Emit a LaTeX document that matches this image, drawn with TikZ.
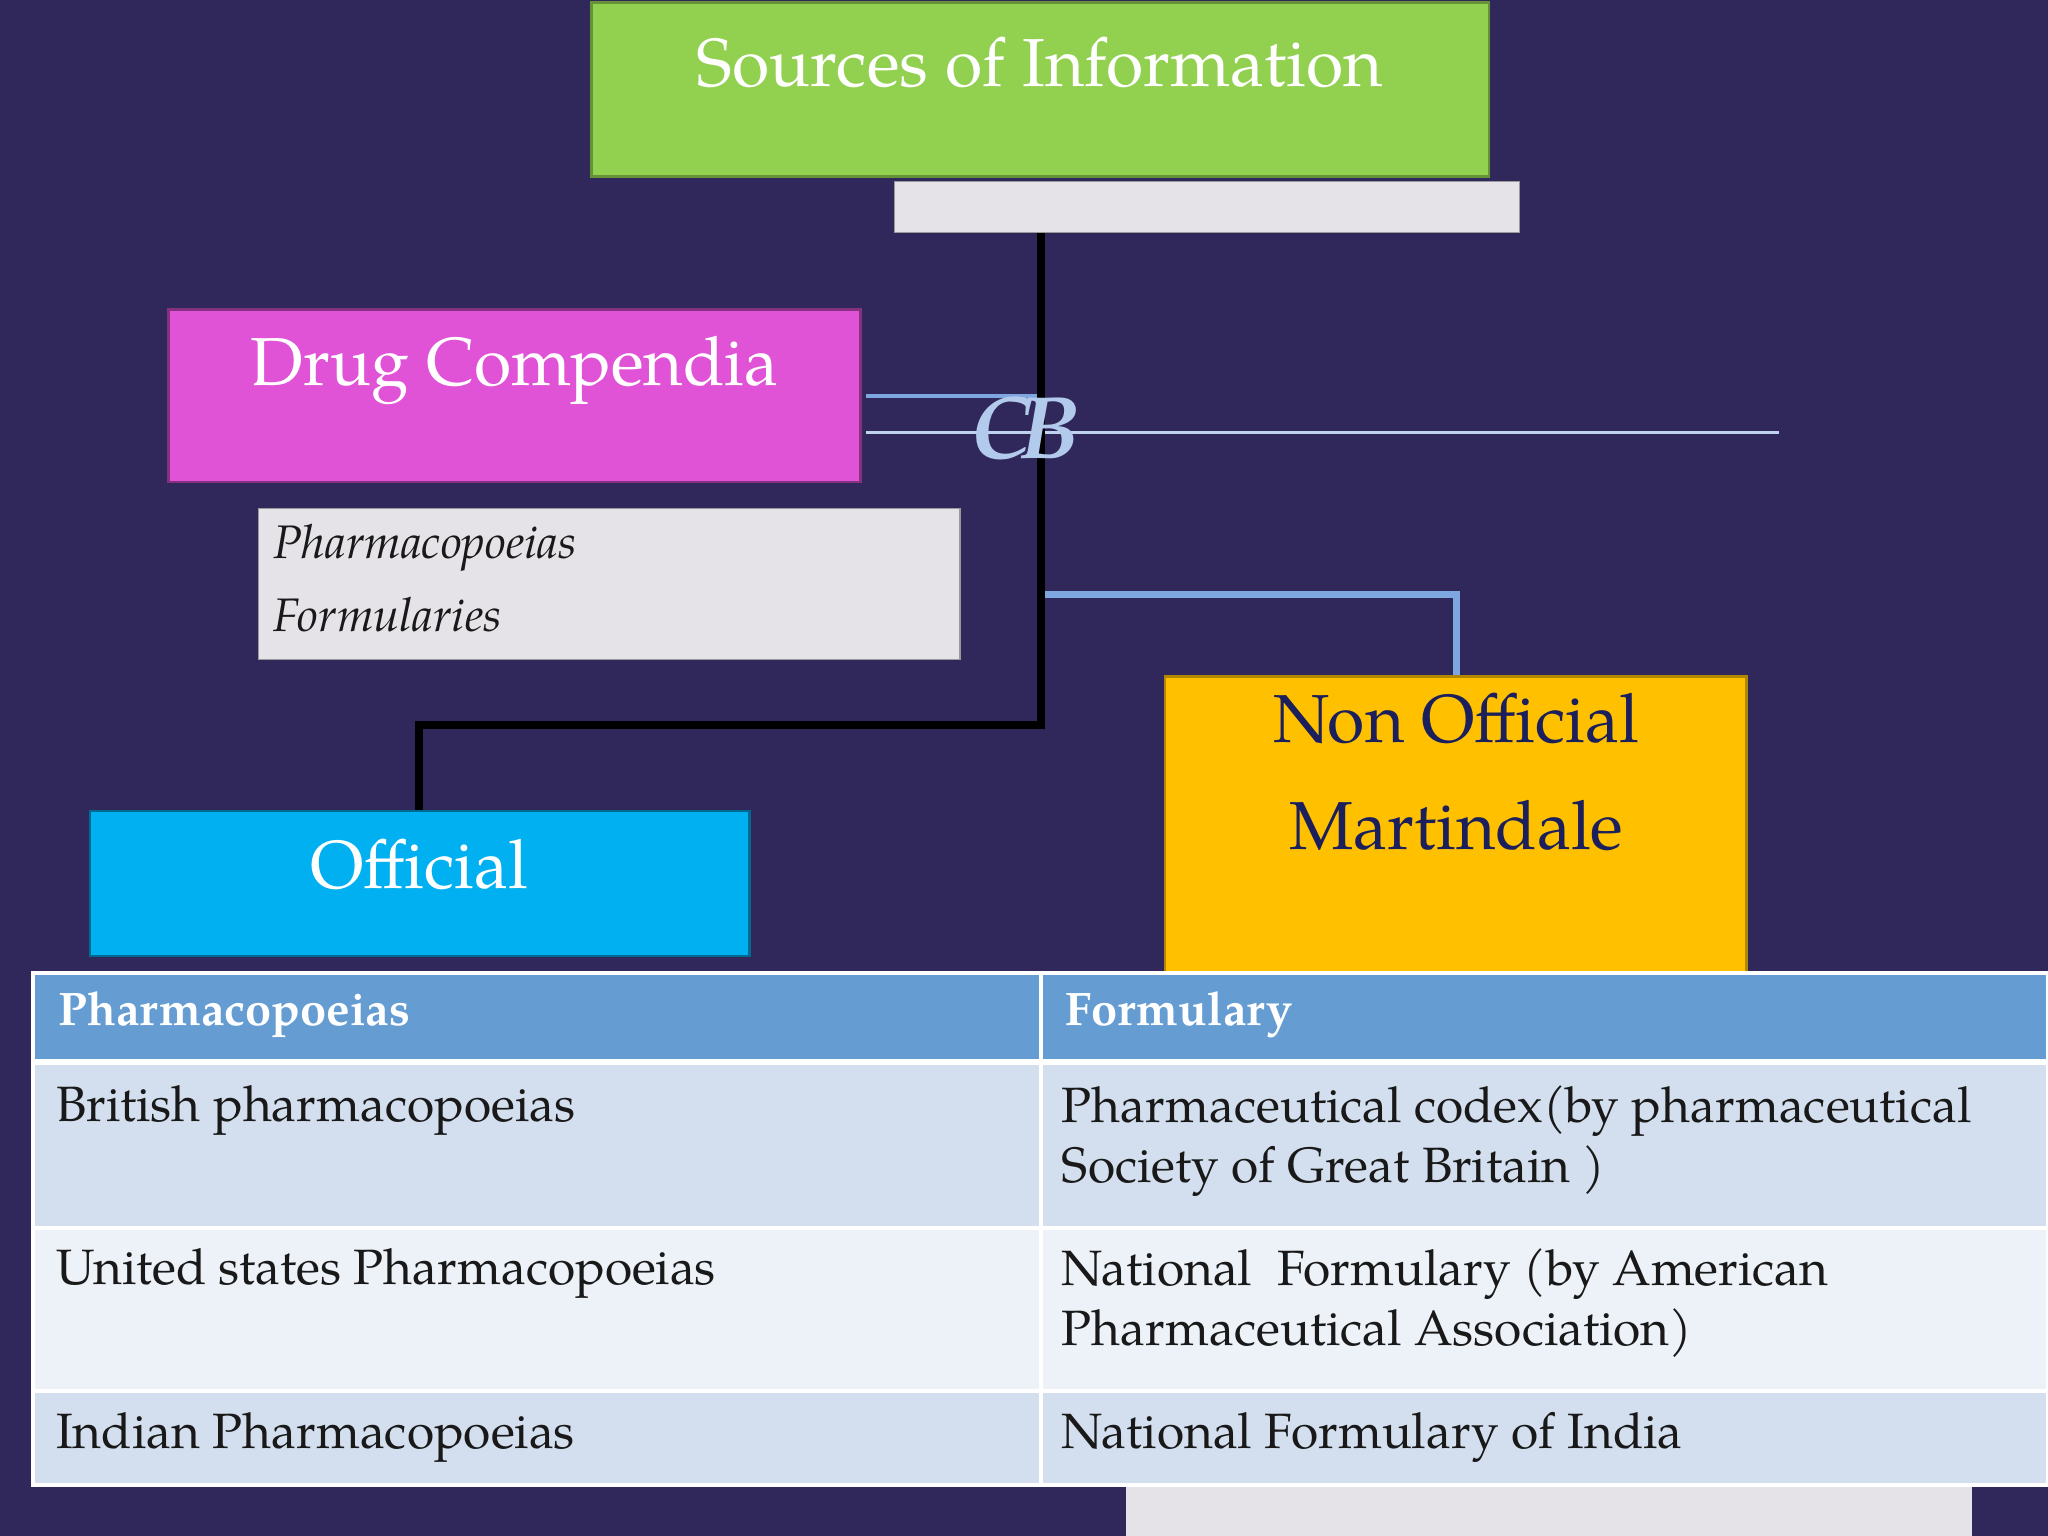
\documentclass[tikz,border=0pt]{standalone}
\usepackage{fontspec}
\setmainfont{TeX Gyre Pagella}
\begin{document}
\begin{tikzpicture}[x=0.5pt,y=-0.5pt,
  wt/.style={text=white,font=\fontsize{26}{30}\selectfont},
  bt/.style={text=black!90,font=\fontsize{19}{23}\selectfont,anchor=north west,align=left},
  ht/.style={text=white,font=\bfseries\fontsize{18}{22}\selectfont,anchor=west}]
\definecolor{bg}{HTML}{30285A}
\definecolor{gr}{HTML}{92D050}
\definecolor{mg}{HTML}{E052D6}
\definecolor{cy}{HTML}{00B0F0}
\definecolor{yl}{HTML}{FFC000}
\definecolor{lg}{HTML}{E6E3E8}
\definecolor{hd}{HTML}{659DD3}
\definecolor{r1}{HTML}{D3DFEE}
\definecolor{r2}{HTML}{EDF1F8}
\definecolor{nv}{HTML}{1B1F5C}
\definecolor{lb}{HTML}{7FA7DF}
\fill[bg] (0,0) rectangle (1568,1176);
\useasboundingbox (0,0) rectangle (1568,1176);
% lines
\draw[lb,line width=1.5pt] (663,303) -- (797,303);
\draw[lb!50!white,line width=1pt] (663,331) -- (1362,331);
\draw[lb,line width=2.5pt] (797,455) -- (1115,455) -- (1115,518);
\draw[black,line width=3pt] (797,178) -- (797,555) -- (321,555) -- (321,621);
% boxes
\fill[lg,draw=black!40] (685,139) rectangle (1163,178);
\filldraw[fill=gr,draw=gr!70!black,line width=1pt] (453,2) rectangle (1140,135);
\node[wt] (src) at (796,48) {Sources of Information};
\filldraw[fill=mg,draw=mg!60!black,line width=1pt] (129,237) rectangle (659,369);
\node[wt] (dc) at (394,284) {Drug Compendia};
\node[text=lb!60!white,font=\itshape\bfseries\fontsize{34}{34}\selectfont] (orn) at (785,328) {C\kern-4pt B};
\fill[lg,draw=black!40] (198,389) rectangle (735,505);
\node[bt,font=\itshape\fontsize{18}{28}\selectfont] (pf) at (202,394) {Pharmacopoeias\\Formularies};
\filldraw[fill=cy,draw=cy!60!black,line width=1pt] (69,621) rectangle (574,732);
\node[wt] (off) at (321,662) {Official};
\filldraw[fill=yl,draw=yl!70!black,line width=1pt] (892,518) rectangle (1337,760);
\node[wt,text=nv,align=center,font=\fontsize{26}{41}\selectfont] (nof) at (1115,591) {Non Official\\Martindale};
\fill[lg] (862,1137) rectangle (1510,1176);
% table
\fill[hd] (25,745) rectangle (1568,813);
\fill[r1] (25,813) rectangle (1568,940);
\fill[r2] (25,940) rectangle (1568,1065);
\fill[r1] (25,1065) rectangle (1568,1137);
\draw[white,line width=1.5pt] (25,745) rectangle (1568,1137);
\draw[white,line width=2.5pt] (25,813) -- (1568,813);
\draw[white,line width=1.5pt] (25,940) -- (1568,940) (25,1065) -- (1568,1065) (797,745) -- (797,1137);
\node[ht] at (38,777) {Pharmacopoeias};
\node[ht] at (809,777) {Formulary};
\node[bt] at (36,824) {British pharmacopoeias};
\node[bt] at (806,824) {Pharmaceutical codex(by pharmaceutical\\Society of Great Britain )};
\node[bt] at (36,949) {United states Pharmacopoeias};
\node[bt] at (806,949) {National\ \ Formulary (by American\\Pharmaceutical Association)};
\node[bt] at (36,1074) {Indian Pharmacopoeias};
\node[bt] at (806,1074) {National Formulary of India};
\end{tikzpicture}
\end{document}
